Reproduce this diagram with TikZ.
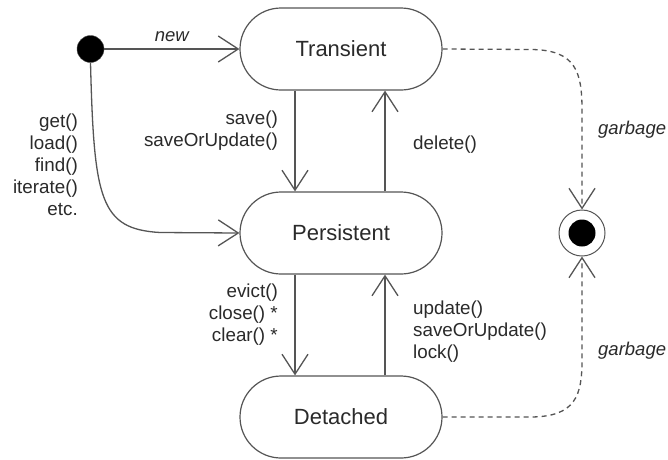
\documentclass[tikz,border=0pt]{standalone}
\usepackage{fontspec}
\setmainfont{Liberation Sans}
\usetikzlibrary{arrows.meta}
\definecolor{linec}{HTML}{555555}
\definecolor{textc}{HTML}{2A2A2A}
\begin{document}
\begin{tikzpicture}[x=1pt,y=-1pt,
  state/.style={draw=linec, line width=1.2pt, rounded corners=41pt, minimum width=202pt, minimum height=82pt, inner sep=0pt, font=\fontsize{22}{26}\selectfont, text=textc},
  lbl/.style={font=\fontsize{18.8}{22}\selectfont, text=textc, inner sep=0pt},
  ilbl/.style={font=\fontsize{18.5}{22}\selectfont\itshape, text=textc, inner sep=0pt},
  arr/.style={draw=linec, line width=1.3pt, -{Straight Barb[length=20pt,width=26pt]}},
  garb/.style={draw=linec, line width=1.3pt, dash pattern=on 5pt off 4pt, -{Straight Barb[length=20pt,width=26pt]}}
]
\useasboundingbox (0,0) rectangle (668,459);
\fill[white] (0,0) rectangle (668,459);

\node[state] (T) at (341,49) {Transient};
\node[state] (P) at (341,233) {Persistent};
\node[state] (D) at (341,417) {Detached};

\node[circle, fill=black, draw=linec, minimum size=27pt, inner sep=0pt] (I) at (90.5,49) {};
\node[circle, draw=linec, line width=1pt, minimum size=46pt, inner sep=0pt] (F) at (582,233) {};
\node[circle, fill=black, minimum size=27pt, inner sep=0pt] (Fi) at (F) {};

% initial transitions
\draw[arr] (I.east) -- node[ilbl, above=7pt] {new} (T.west);
\coordinate (c1) at (160,232.5);
\draw[arr] (I.south) .. controls (94,200) and (100,229) .. (c1) -- (P.west);
\node[lbl, align=right, anchor=east] (L1) at (78,165) {get()\\load()\\find()\\iterate()\\etc.};

% vertical transitions
\draw[arr] ([xshift=-46pt]T.south) -- ([xshift=-46pt]P.north);
\node[lbl, align=right, anchor=east] (L2) at (278,131) {save()\\saveOrUpdate()};
\draw[arr] ([xshift=44pt]P.north) -- ([xshift=44pt]T.south);
\node[lbl, align=left, anchor=west] (L3) at (413,145) {delete()};
\draw[arr] ([xshift=-46pt]P.south) -- ([xshift=-46pt]D.north);
\node[lbl, align=right, anchor=east] (L4) at (278,315) {evict()\\close() *\\clear() *};
\draw[arr] ([xshift=44pt]D.north) -- ([xshift=44pt]P.south);
\node[lbl, align=left, anchor=west] (L5) at (413,332) {update()\\saveOrUpdate()\\lock()};

% garbage transitions
\coordinate (g1) at (530,49.5);
\coordinate (g2) at (582,110);
\draw[garb] (T.east) -- (g1) .. controls (576,49.5) and (582,72) .. (g2) -- (F.north);
\coordinate (g3) at (530,417);
\coordinate (g4) at (582,360);
\draw[garb] (D.east) -- (g3) .. controls (576,417) and (582,395) .. (g4) -- (F.south);
\node[ilbl, anchor=west] (G1) at (598,130) {garbage};
\node[ilbl, anchor=west] (G2) at (598,351) {garbage};
\end{tikzpicture}
\end{document}
